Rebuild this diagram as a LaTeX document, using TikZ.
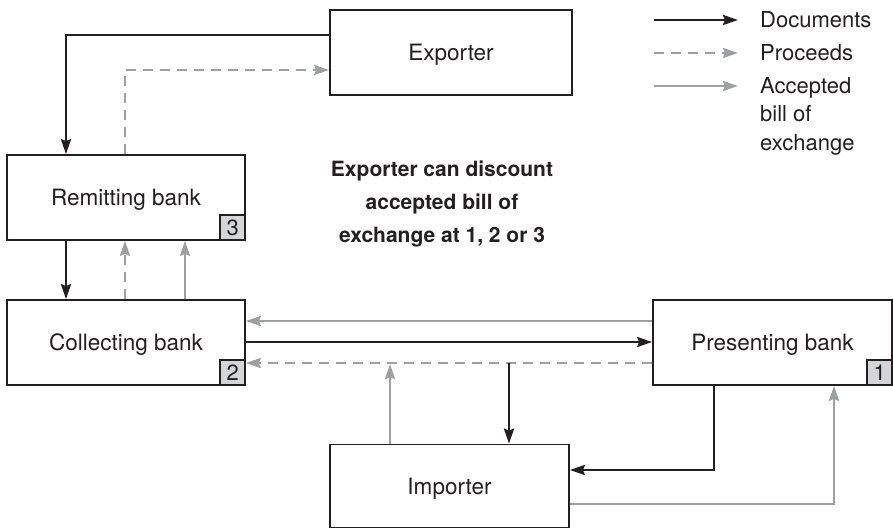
\documentclass[tikz,border=0pt]{standalone}
\usepackage{fontspec}
\setmainfont{TeX Gyre Heros}
\usetikzlibrary{arrows.meta}
\definecolor{ink}{HTML}{231F20}
\definecolor{lgray}{HTML}{9D9FA2}
\definecolor{badgefill}{HTML}{D4D5D6}
\tikzset{
  box/.style={draw=ink, line width=1.7pt, fill=white, inner sep=0pt, text depth=0pt, font=\fontsize{22.5}{26}\selectfont, text=ink},
  badge/.style={draw=ink, line width=1.4pt, fill=badgefill, minimum width=25pt, minimum height=25pt, inner sep=0pt, font=\fontsize{22}{25}\selectfont, text=ink},
  tip/.style={-{Stealth[length=15pt,width=10pt,inset=2pt]}},
  docline/.style={tip, draw=ink, line width=2.8pt},
  procline/.style={tip, draw=lgray, line width=2.5pt, dash pattern=on 10pt off 7pt},
  billline/.style={tip, draw=lgray, line width=2.5pt},
  legtext/.style={anchor=west, inner sep=0pt, font=\fontsize{22}{25}\selectfont, text=ink},
}
\begin{document}
\begin{tikzpicture}[x=1pt, y=-1pt]
\useasboundingbox (0,0) rectangle (893,529);
% boxes
\node[box, minimum width=242pt, minimum height=85pt] (exporter) at (451,52.5) {Exporter};
\node[box, minimum width=238pt, minimum height=85pt] (remit) at (126,197.5) {Remitting bank};
\node[box, minimum width=238pt, minimum height=85pt] (collect) at (126,342.5) {Collecting bank};
\node[box, minimum width=239pt, minimum height=85pt] (present) at (772.5,342.5) {Presenting bank};
\node[box, minimum width=239pt, minimum height=83pt] (importer) at (449.5,486) {Importer};
% badges
\node[badge, anchor=south east] (b3) at (remit.south east) {3};
\node[badge, anchor=south east] (b2) at (collect.south east) {2};
\node[badge, anchor=south east] (b1) at (present.south east) {1};
% centre text
\node[align=center, font=\bfseries\fontsize{21}{33}\selectfont, text=ink] (note) at (442,204)
  {Exporter can discount\\accepted bill of\\exchange at 1, 2 or 3};
% connectors
\draw[docline] (exporter.west |- 0,35) -| (remit.north -| 66,0);
\draw[procline] (remit.north -| 125,0) |- (exporter.west |- 0,70);
\draw[docline] (remit.south -| 66,0) -- (collect.north -| 66,0);
\draw[procline] (collect.north -| 125,0) -- (remit.south -| 125,0);
\draw[billline] (collect.north -| 185,0) -- (remit.south -| 185,0);
\draw[billline] (present.west |- 0,321) -- (collect.east |- 0,321);
\draw[docline] (collect.east |- 0,342) -- (present.west |- 0,342);
\draw[procline] (present.west |- 0,363) -- (collect.east |- 0,363);
\coordinate (pj) at (390,364);
\coordinate (dj) at (509,363);
\draw[billline] (importer.north -| 390,0) -- (pj);
\draw[docline] (dj) -- (importer.north -| 509,0);
\draw[docline] (present.south -| 714,0) |- (importer.east |- 0,470);
\draw[billline] (importer.east |- 0,504) -| (present.south -| 834,0);
% legend
\coordinate (l1a) at (654,20); \coordinate (l1b) at (738,20);
\coordinate (l2a) at (654,53); \coordinate (l2b) at (738,53);
\coordinate (l3a) at (654,86); \coordinate (l3b) at (738,86);
\draw[docline] (l1a) -- (l1b);
\draw[procline] (l2a) -- (l2b);
\draw[billline] (l3a) -- (l3b);
\node[legtext] (t1) at (760,20) {Documents};
\node[legtext] (t2) at (760,53) {Proceeds};
\node[legtext, align=left, anchor=north west, font=\fontsize{22}{28.5}\selectfont] (t3) at (760,77) {Accepted\\bill of\\exchange};
\end{tikzpicture}
\end{document}
